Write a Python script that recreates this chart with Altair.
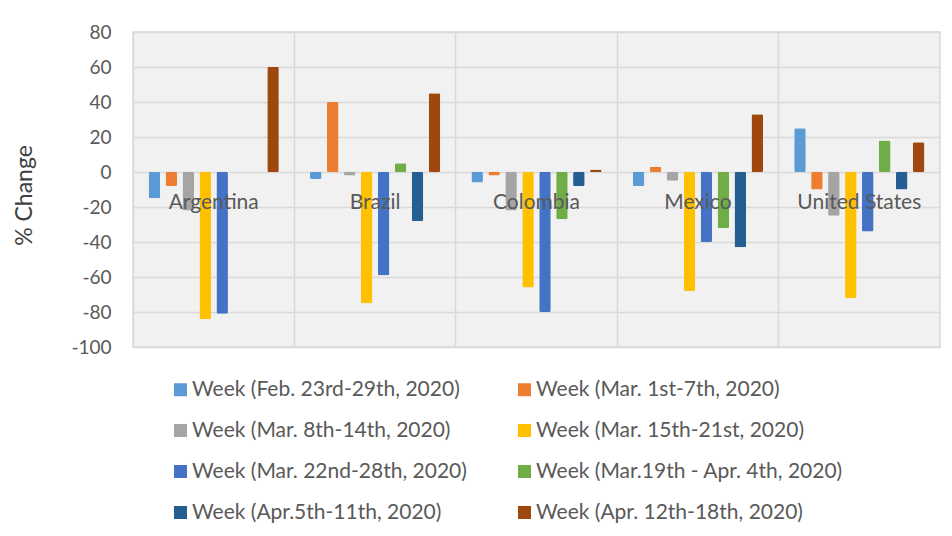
import altair as alt
import pandas as pd

countries = ["Argentina", "Brazil", "Colombia", "Mexico", "United States"]
weeks = [
    "Week (Feb. 23rd-29th, 2020)",
    "Week (Mar. 1st-7th, 2020)",
    "Week (Mar. 8th-14th, 2020)",
    "Week (Mar. 15th-21st, 2020)",
    "Week (Mar. 22nd-28th, 2020)",
    "Week (Mar.19th - Apr. 4th, 2020)",
    "Week (Apr.5th-11th, 2020)",
    "Week (Apr. 12th-18th, 2020)",
]
w1 = [-15, -4, -6, -8, 25]
w2 = [-8, 40, -2, 3, -10]
w3 = [-22, -2, -22, -5, -25]
w4 = [-84, -75, -66, -68, -72]
w5 = [-81, -59, -80, -40, -34]
w6 = [None, 5, -27, -32, 18]
w7 = [None, -28, -8, -43, -10]
w8 = [60, 45, 1.5, 33, 17]
series = [w1, w2, w3, w4, w5, w6, w7, w8]
colors = ["#5B9BD5", "#ED7D31", "#A5A5A5", "#FFC000", "#4472C4", "#70AD47", "#255E91", "#9E480E"]
y_ticks = [-100, -80, -60, -40, -20, 0, 20, 40, 60, 80]

rows = []
for wk, vals in zip(weeks, series):
    for c, v in zip(countries, vals):
        rows.append({"country": c, "week": wk, "value": v})
df = pd.DataFrame(rows)

FONT = "Lato"
LABEL = "#595959"

chart = alt.Chart(df).mark_bar(cornerRadius=1.5).encode(
    x=alt.X(
        "country:N", sort=countries,
        scale=alt.Scale(paddingInner=0, paddingOuter=0),
        axis=alt.Axis(
            title=None, orient="bottom", offset=-156, domain=False, ticks=False,
            grid=True, gridColor="#D9D9D9", bandPosition=0,
            gridWidth=1.5, labelFont=FONT, labelFontSize=21, labelColor=LABEL,
            labelPadding=0, labelAngle=0, zindex=1,
        ),
    ),
    xOffset=alt.XOffset("week:N", sort=weeks,
                        scale=alt.Scale(paddingInner=0.32, paddingOuter=0.92)),
    y=alt.Y(
        "value:Q",
        scale=alt.Scale(domain=[-100, 80], nice=False, zero=True),
        axis=alt.Axis(
            values=y_ticks, title="% Change", domain=False, ticks=False,
            grid=True, gridColor="#D9D9D9", gridWidth=1.5,
            labelExpr="'' + datum.value",
            labelFont=FONT, labelFontSize=19, labelColor=LABEL, labelPadding=22,
            titleFont=FONT, titleFontSize=23, titleFontWeight="normal",
            titleColor="#404040", titleX=-109, titleY=163, titleBaseline="middle",
            titleAngle=270,
        ),
    ),
    color=alt.Color(
        "week:N", sort=weeks,
        scale=alt.Scale(domain=weeks, range=colors),
        legend=alt.Legend(
            title=None, orient="none", legendX=37, legendY=347, columns=2,
            direction="horizontal",
            columnPadding=47, rowPadding=19, padding=0,
            symbolType="square", symbolSize=169, symbolStrokeWidth=0,
            labelFont=FONT, labelFontSize=21, labelColor=LABEL, labelOffset=1,
            labelLimit=400,
        ),
    ),
).properties(
    width=807, height=315,
    autosize=alt.AutoSizeParams(type="none"),
    padding={"left": 125, "top": 24, "right": 4, "bottom": 181},
    background="white",
).configure_view(
    stroke="#D9D9D9", strokeWidth=1.5, fill="#F0F1F0"
)

chart.save("out.html", embed_options={"renderer": "svg", "actions": False})
